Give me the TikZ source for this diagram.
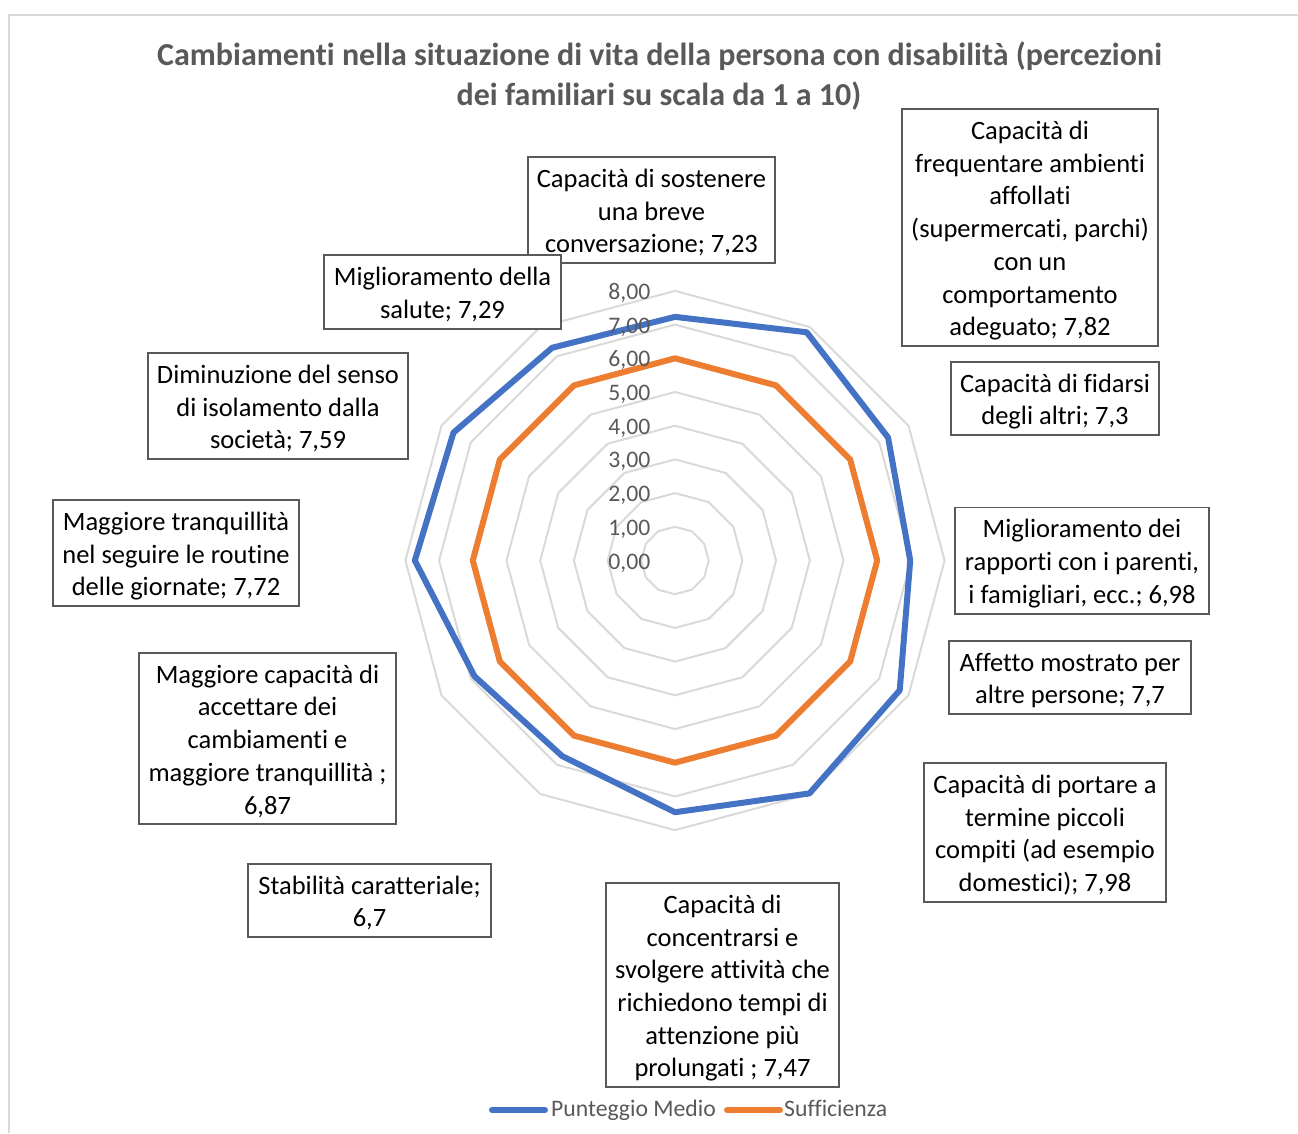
\documentclass[tikz,border=0pt]{standalone}
\usepackage{fontspec}
\setmainfont{Carlito}[Ligatures={NoCommon}]
\definecolor{gridgray}{HTML}{D9D9D9}
\definecolor{txtgray}{HTML}{595959}
\definecolor{boxgray}{HTML}{595959}
\definecolor{serblue}{HTML}{4472C4}
\definecolor{serorange}{HTML}{ED7D31}
\newcommand\topstr{\rule{0pt}{30.5pt}}
\newcommand\botstr{\rule[-10.3pt]{0pt}{10.3pt}}
\tikzset{
  grid/.style={draw=gridgray, line width=2pt, line join=round},
  frame/.style={draw=gridgray, line width=2pt},
  series/.style={line width=6pt, line join=round},
  lbl/.style={draw=boxgray, line width=1.8pt, fill=white, align=center, inner sep=0pt,
    font=\fontsize{26.5}{32.7}\selectfont, text=black},
  axlbl/.style={font=\fontsize{23.7}{28}\selectfont, text=txtgray, inner sep=0pt, anchor=base east},
  titl/.style={font=\fontsize{32}{39.5}\selectfont\bfseries, text=txtgray, inner sep=0pt, anchor=base},
  legtxt/.style={font=\fontsize{23.7}{28}\selectfont, text=txtgray, inner sep=0pt, anchor=base west},
  legline/.style={line width=6pt, line cap=round}
}
\begin{document}
\begin{tikzpicture}[x=1pt,y=-1pt]
\useasboundingbox (0,0) rectangle (1298,1133);
% chart frame
\coordinate (fa) at (9,1133);
\coordinate (fb) at (9,14.5);
\coordinate (fc) at (1298,14.5);
\draw[frame] (fa) -- (fb) -- (fc);
% title
\node[titl] (t1) at (659.5,65.5) {Cambiamenti nella situazione di vita della persona con disabilità (percezioni};
\node[titl] (t2) at (659,105.5) {dei familiari su scala da 1 a 10)};
% grid rings
\foreach \k in {1,...,8} {
  \pgfmathsetmacro{\R}{33.7*\k}
  \draw[grid] (675,{560.5-\R}) \foreach \i in {1,...,11} { -- ({675+\R*cos(90-30*\i)},{560.5-\R*sin(90-30*\i)}) } -- cycle;
}
% data coordinates
\foreach \v [count=\i from 0] in {7.23,7.82,7.3,6.98,7.7,7.98,7.47,6.7,6.87,7.72,7.59,7.29} {
  \coordinate (b\i) at ({675+33.7*\v*cos(90-30*\i)},{560.5-33.7*\v*sin(90-30*\i)});
  \coordinate (o\i) at ({675+33.7*6*cos(90-30*\i)},{560.5-33.7*6*sin(90-30*\i)});
}
\draw[series, draw=serorange] (o0) -- (o1) -- (o2) -- (o3) -- (o4) -- (o5) -- (o6) -- (o7) -- (o8) -- (o9) -- (o10) -- (o11) -- cycle;
\draw[series, draw=serblue] (b0) -- (b1) -- (b2) -- (b3) -- (b4) -- (b5) -- (b6) -- (b7) -- (b8) -- (b9) -- (b10) -- (b11) -- cycle;
% axis labels
\foreach \k in {0,...,8} {
  \node[axlbl] (ax\k) at (650.5,{560.5-33.7*\k+8.5}) {\k,00};
}
% data labels
\node[lbl, minimum width=247pt] (l1) at (651.5,210) {\topstr Capacità di sostenere\\una breve\\conversazione; 7,23\botstr};
\node[lbl, minimum width=237pt] (l12) at (442.5,292) {\topstr Miglioramento della\\salute; 7,29\botstr};
\node[lbl, minimum width=256pt] (l2) at (1030,227.5) {\topstr Capacità di\\frequentare ambienti\\affollati\\(supermercati, parchi)\\con un\\comportamento\\adeguato; 7,82\botstr};
\node[lbl, minimum width=208pt] (l3) at (1055,398.5) {\topstr Capacità di fidarsi\\degli altri; 7,3\botstr};
\node[lbl, minimum width=254pt] (l4) at (1082,560.5) {\topstr Miglioramento dei\\rapporti con i parenti,\\i famigliari, ecc.; 6,98\botstr};
\node[lbl, minimum width=242pt] (l5) at (1070,677.5) {\topstr Affetto mostrato per\\altre persone; 7,7\botstr};
\node[lbl, minimum width=242pt] (l6) at (1045,832.5) {\topstr Capacità di portare a\\termine piccoli\\compiti (ad esempio\\domestici); 7,98\botstr};
\node[lbl, minimum width=233pt] (l7) at (722.5,985) {\topstr Capacità di\\concentrarsi e\\svolgere attività che\\richiedono tempi di\\attenzione più\\prolungati ; 7,47\botstr};
\node[lbl, minimum width=243pt] (l8) at (369.5,900.5) {\topstr Stabilità caratteriale;\\6,7\botstr};
\node[lbl, minimum width=257pt] (l9) at (267.5,738.5) {\topstr Maggiore capacità di\\accettare dei\\cambiamenti e\\maggiore tranquillità ;\\6,87\botstr};
\node[lbl, minimum width=246pt] (l10) at (176,553) {\topstr Maggiore tranquillità\\nel seguire le routine\\delle giornate; 7,72\botstr};
\node[lbl, minimum width=260pt] (l11) at (278,406) {\topstr Diminuzione del senso\\di isolamento dalla\\società; 7,59\botstr};
% legend
\coordinate (lb1) at (492,1110);
\coordinate (lb2) at (545,1110);
\coordinate (lo1) at (727,1110);
\coordinate (lo2) at (780,1110);
\draw[legline, draw=serblue] (lb1) -- (lb2);
\node[legtxt] (lt1) at (551,1116.7) {Punteggio Medio};
\draw[legline, draw=serorange] (lo1) -- (lo2);
\node[legtxt] (lt2) at (784,1116.7) {Sufficienza};
\end{tikzpicture}
\end{document}
